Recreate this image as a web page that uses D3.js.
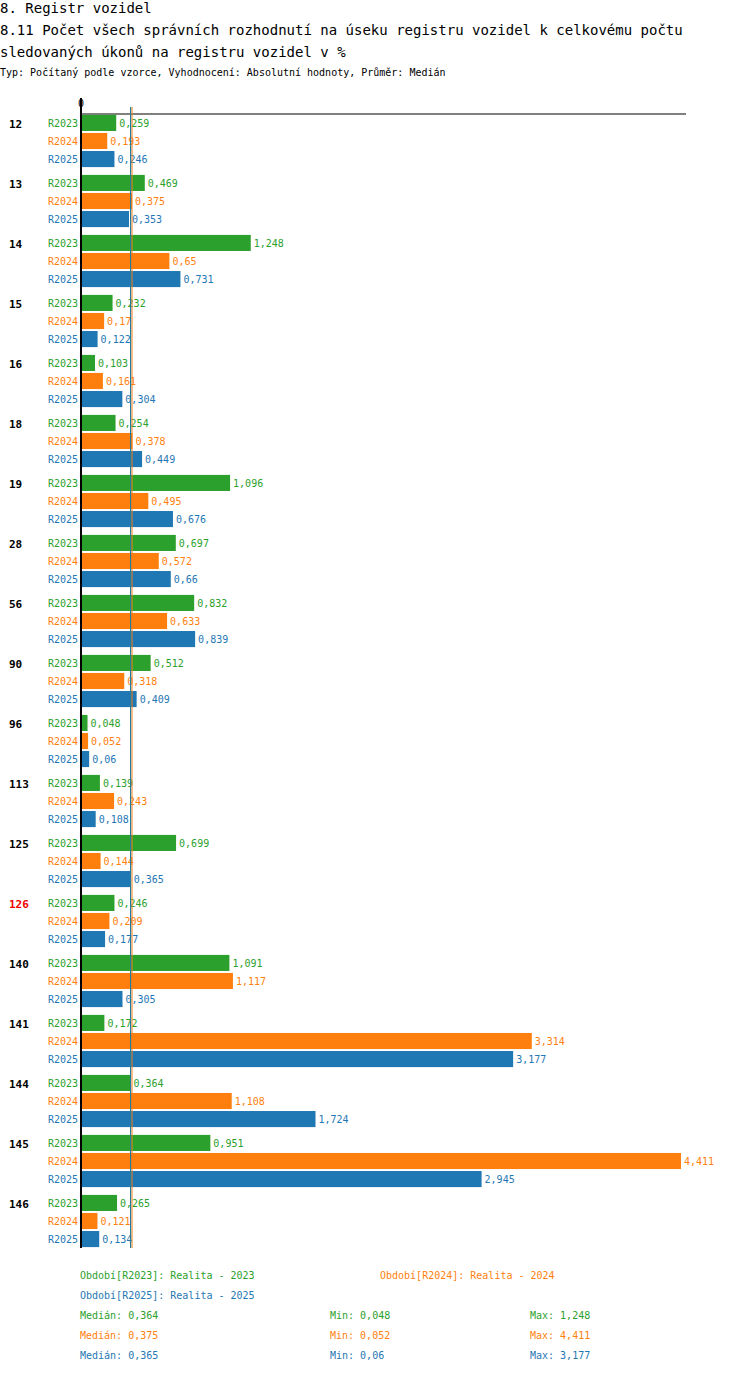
<!DOCTYPE html>
<html><head><meta charset="utf-8">
<script src="https://cdn.jsdelivr.net/npm/d3@7"></script>
<style>body{margin:0;background:#fff}text{font-family:"DejaVu Sans Mono",monospace}</style>
</head><body>
<svg id="chart" width="750" height="1374"></svg>
<script>
var categories = ["12","13","14","15","16","18","19","28","56","90","96","113","125","126","140","141","144","145","146"];
var series = ["R2023","R2024","R2025"];
var r2023 = [0.259,0.469,1.248,0.232,0.103,0.254,1.096,0.697,0.832,0.512,0.048,0.139,0.699,0.246,1.091,0.172,0.364,0.951,0.265];
var r2024 = [0.193,0.375,0.65,0.17,0.161,0.378,0.495,0.572,0.633,0.318,0.052,0.243,0.144,0.209,1.117,3.314,1.108,4.411,0.121];
var r2025 = [0.246,0.353,0.731,0.122,0.304,0.449,0.676,0.66,0.839,0.409,0.06,0.108,0.365,0.177,0.305,3.177,1.724,2.945,0.134];
var medians = [0.364,0.375,0.365];
var mins = ["0,048","0,052","0,06"];
var maxs = ["1,248","4,411","3,177"];
var legendNames = ["Realita - 2023","Realita - 2024","Realita - 2025"];
var colors = ["#2ca02c","#ff7f0e","#1f77b4"];
var values = [r2023, r2024, r2025];
var fmt = function (v) { return String(v).replace(".", ","); };

var svg = d3.select("#chart");
var x = d3.scaleLinear().domain([0, 4.411]).range([81, 681]);
var y = d3.scaleBand().domain(categories).range([114, 114 + 60 * categories.length]);
var ys = d3.scaleBand().domain(series).range([0, 54]).paddingInner(0.11).paddingOuter(0.05);

svg.append("text").attr("x", 0).attr("y", 13).attr("font-size", 14).text("8. Registr vozidel");
svg.append("text").attr("x", 0).attr("y", 35).attr("font-size", 14).text("8.11 Počet všech správních rozhodnutí na úseku registru vozidel k celkovému počtu");
svg.append("text").attr("x", 0).attr("y", 57).attr("font-size", 14).text(" sledovaných úkonů na registru vozidel v %");
svg.append("text").attr("x", 0).attr("y", 76).attr("font-size", 10).text("Typ: Počítaný podle vzorce, Vyhodnocení: Absolutní hodnoty, Průměr: Medián");

svg.append("text").attr("x", x(0)).attr("y", 107).attr("font-size", 10).attr("text-anchor", "middle").text("0");
svg.append("line").attr("x1", x(0)).attr("x2", 686).attr("y1", 114).attr("y2", 114).attr("stroke", "#000");

var g = svg.selectAll("g.cat").data(categories).enter().append("g")
    .attr("transform", function (d) { return "translate(0," + y(d) + ")"; });
g.append("text").attr("x", 9).attr("y", ys("R2023") + 13).attr("font-size", 11).attr("font-weight", "bold")
    .attr("fill", function (d) { return d === "126" ? "#e00" : "#000"; }).text(function (d) { return d; });

series.forEach(function (s, si) {
    g.append("text").attr("x", 78).attr("y", ys(s) + 12).attr("font-size", 10).attr("text-anchor", "end")
        .attr("fill", colors[si]).text(s);
    g.append("rect").attr("x", x(0)).attr("y", ys(s))
        .attr("width", function (d, i) { return x(values[si][i]) - x(0); })
        .attr("height", ys.bandwidth()).attr("fill", colors[si]);
    g.append("text").attr("x", function (d, i) { return x(values[si][i]) + 3; }).attr("y", ys(s) + 12)
        .attr("font-size", 10).attr("fill", colors[si]).text(function (d, i) { return fmt(values[si][i]); });
});

var bottom = y.range()[1];
medians.forEach(function (m, i) {
    svg.append("line").attr("x1", x(m)).attr("x2", x(m)).attr("y1", 107).attr("y2", bottom - 6)
        .attr("stroke", colors[i]).attr("stroke-width", 1);
});
svg.append("line").attr("x1", x(0)).attr("x2", x(0)).attr("y1", 98).attr("y2", bottom - 6).attr("stroke", "#000").attr("stroke-width", 2);

var leg = [[80, 1279], [380, 1279], [80, 1299]];
series.forEach(function (s, i) {
    svg.append("text").attr("x", leg[i][0]).attr("y", leg[i][1]).attr("font-size", 10).attr("fill", colors[i])
        .text("Období[" + s + "]: " + legendNames[i]);
    var yy = 1319 + i * 20;
    svg.append("text").attr("x", 80).attr("y", yy).attr("font-size", 10).attr("fill", colors[i]).text("Medián: " + fmt(medians[i]));
    svg.append("text").attr("x", 330).attr("y", yy).attr("font-size", 10).attr("fill", colors[i]).text("Min: " + mins[i]);
    svg.append("text").attr("x", 530).attr("y", yy).attr("font-size", 10).attr("fill", colors[i]).text("Max: " + maxs[i]);
});
</script>
</body></html>
